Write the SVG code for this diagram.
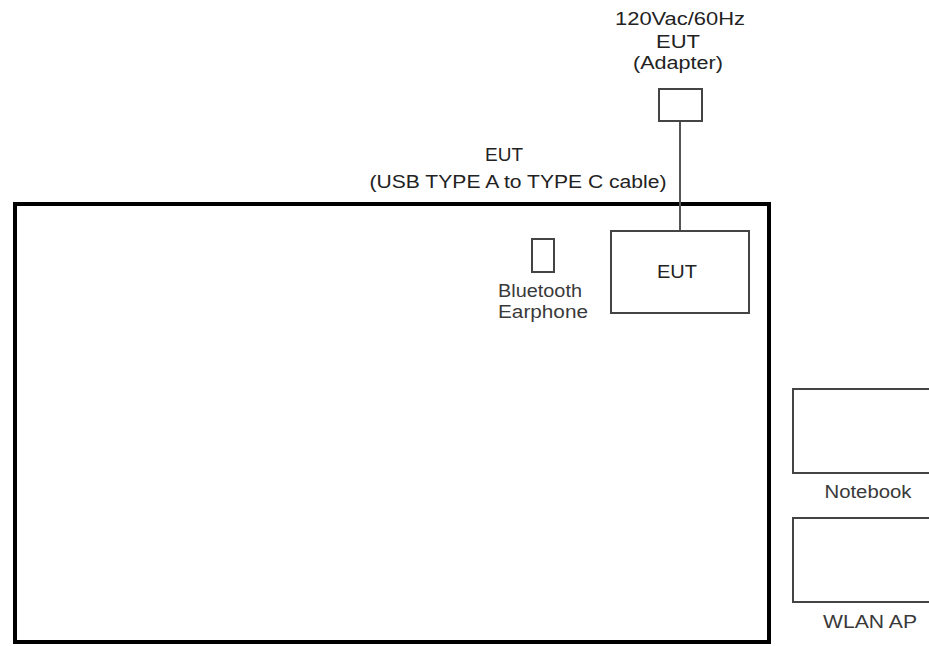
<svg xmlns="http://www.w3.org/2000/svg" width="929" height="646" viewBox="0 0 929 646">
<style>
  .t { font-family: "Liberation Sans", Arial, sans-serif; font-size: 17.5px; fill: #222; text-anchor: middle; }
  .g { fill: #3a3a3a; }
  .box { fill: #fff; stroke: #444; stroke-width: 2; }
  .wire { stroke: #555; stroke-width: 2; fill: none; }
</style>
<rect width="929" height="646" fill="#fff"/>
<g id="table">
  <rect x="15" y="204" width="754" height="438" fill="none" stroke="#000" stroke-width="4"/>
</g>
<g id="connectors">
  <line class="wire" x1="680" y1="121" x2="680" y2="231"/>
</g>
<g id="adapter">
  <text class="t" x="680" y="25" textLength="130" lengthAdjust="spacingAndGlyphs">120Vac/60Hz</text>
  <text class="t" x="678" y="48" textLength="44" lengthAdjust="spacingAndGlyphs">EUT</text>
  <text class="t" x="678" y="69" textLength="90" lengthAdjust="spacingAndGlyphs">(Adapter)</text>
  <rect class="box" x="659" y="89" width="43" height="32"/>
</g>
<g id="cable">
  <text class="t" x="504" y="161" textLength="38" lengthAdjust="spacingAndGlyphs">EUT</text>
  <text class="t" x="518" y="188" textLength="297" lengthAdjust="spacingAndGlyphs">(USB TYPE A to TYPE C cable)</text>
</g>
<g id="eut">
  <rect class="box" x="611" y="231" width="138" height="82"/>
  <text class="t" x="677" y="278" textLength="40" lengthAdjust="spacingAndGlyphs">EUT</text>
</g>
<g id="earphone">
  <rect class="box" x="532" y="239" width="22" height="33"/>
  <text class="t g" x="540" y="297" textLength="84" lengthAdjust="spacingAndGlyphs">Bluetooth</text>
  <text class="t g" x="543" y="318" textLength="90" lengthAdjust="spacingAndGlyphs">Earphone</text>
</g>
<g id="notebook">
  <rect class="box" x="793" y="389" width="150" height="84"/>
  <text class="t g" x="868" y="498" textLength="87" lengthAdjust="spacingAndGlyphs">Notebook</text>
</g>
<g id="wlan">
  <rect class="box" x="793" y="518" width="150" height="84"/>
  <text class="t g" x="870" y="628" textLength="94" lengthAdjust="spacingAndGlyphs">WLAN AP</text>
</g>
</svg>
